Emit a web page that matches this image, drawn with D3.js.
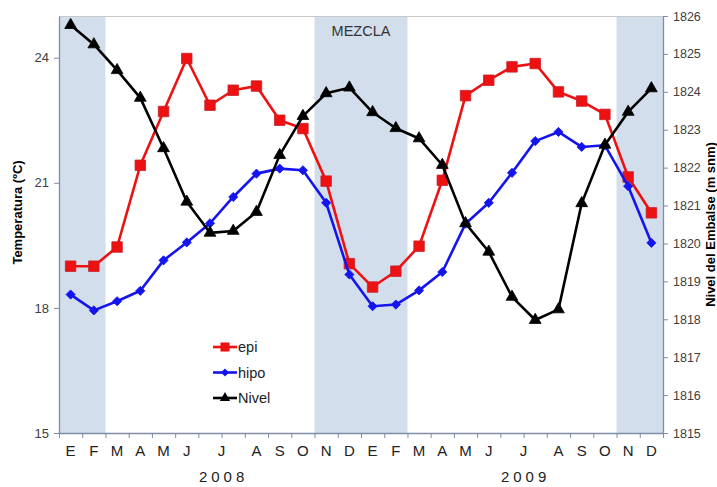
<!DOCTYPE html>
<html>
<head>
<meta charset="utf-8">
<script src="https://cdn.jsdelivr.net/npm/d3@7"></script>
<style>
  body { margin: 0; background: #fff; }
  svg { font-family: "Liberation Sans", Arial, sans-serif; }
</style>
</head>
<body>
<svg width="717" height="487"></svg>
<script>
// one sample per column, July was sampled twice each year
const anio = [2008,2008,2008,2008,2008,2008,2008,2008,2008,2008,2008,2008,2008,
              2009,2009,2009,2009,2009,2009,2009,2009,2009,2009,2009,2009,2009];
const mes  = [1,2,3,4,5,6,7,7,8,9,10,11,12, 1,2,3,4,5,6,7,7,8,9,10,11,12];
const mesLetra = ["E","F","M","A","M","J","J","A","S","O","N","D"];

const epi = [19.0, 19.0, 19.46, 21.42, 22.71, 23.98, 22.86, 23.22, 23.32, 22.5, 22.3, 21.04, 19.06,
             18.5, 18.88, 19.48, 21.06, 23.09, 23.46, 23.78, 23.86, 23.18, 22.96, 22.64, 21.14, 20.28];
const hipo = [18.32, 17.94, 18.16, 18.41, 19.14, 19.57, 20.03, 20.66, 21.22, 21.34, 21.3, 20.52, 18.8,
              18.04, 18.08, 18.42, 18.86, 20.02, 20.52, 21.24, 22.0, 22.22, 21.86, 21.9, 20.92, 19.56];
const nivel = [1825.76, 1825.25, 1824.57, 1823.84, 1822.51, 1821.1, 1820.28, 1820.33, 1820.83, 1822.33, 1823.36, 1823.96, 1824.11,
               1823.46, 1823.04, 1822.77, 1822.07, 1820.53, 1819.78, 1818.59, 1817.98, 1818.26, 1821.06, 1822.6, 1823.47, 1824.09];

// mixing periods, as first and last sample index
const mezcla = [[0, 1, ""], [11, 14, "MEZCLA"], [24, 25, ""]];

const tempTicks = [15, 18, 21, 24];
const nivelTicks = d3.range(1815, 1827);

const svg = d3.select("svg");
const margin = { top: 16, right: 54, bottom: 54, left: 59 };
const W = 717, H = 487;

const x = d3.scaleBand().domain(d3.range(anio.length)).range([margin.left, W - margin.right]);
const xl = d3.scaleLinear().domain([0, anio.length]).range(x.range());
const yT = d3.scaleLinear().domain([15, 25]).range([H - margin.bottom, margin.top]);
const yN = d3.scaleLinear().domain([1815, 1826]).range([H - margin.bottom, margin.top]);
const cx = i => x(i) + x.bandwidth() / 2;

const axisColor = "#7f8ea6";

// shaded mixing bands
svg.append("g").selectAll("rect").data(mezcla).join("rect")
  .attr("x", d => xl(d[0]))
  .attr("width", d => xl(d[1] + 1) - xl(d[0]))
  .attr("y", margin.top)
  .attr("height", yT(15) - margin.top)
  .attr("fill", "#d3deec");

svg.append("g").selectAll("text").data(mezcla.filter(d => d[2])).join("text")
  .attr("x", d => (xl(d[0]) + xl(d[1] + 1)) / 2)
  .attr("y", 36)
  .attr("text-anchor", "middle")
  .attr("font-size", 14.5)
  .attr("fill", "#333")
  .text(d => d[2]);

// frame top
svg.append("line")
  .attr("x1", margin.left).attr("x2", W - margin.right)
  .attr("y1", margin.top + 0.5).attr("y2", margin.top + 0.5)
  .attr("stroke", "#c8c8c8");

// axes
const gl = svg.append("g").attr("transform", `translate(${margin.left},0)`)
  .call(d3.axisLeft(yT).tickValues(tempTicks).tickSize(5).tickSizeOuter(0));
const gr = svg.append("g").attr("transform", `translate(${W - margin.right},0)`)
  .call(d3.axisRight(yN).tickValues(nivelTicks).tickSize(5).tickSizeOuter(0).tickFormat(d3.format("d")));
const gb = svg.append("g").attr("transform", `translate(0,${yT(15)})`)
  .call(d3.axisBottom(xl).tickValues(d3.range(anio.length + 1)).tickSize(5).tickSizeOuter(0).tickFormat(""));

[gl, gr, gb].forEach(g => {
  g.select(".domain").attr("stroke", axisColor).attr("stroke-width", 1.3);
  g.selectAll(".tick line").attr("stroke", axisColor);
  g.selectAll("text").attr("fill", "#404040").attr("font-size", 13);
});
gl.selectAll("text").attr("dx", -2);
gr.selectAll("text").attr("dx", 2).attr("font-size", 12.5);

// month and year labels under the samples
const meses = d3.groups(d3.range(anio.length), i => anio[i] + "-" + mes[i])
  .map(([k, idx]) => ({ m: mes[idx[0]], a: anio[idx[0]], x: d3.mean(idx, cx) }));

svg.append("g").selectAll("text").data(meses).join("text")
  .attr("x", d => d.x)
  .attr("y", 456)
  .attr("text-anchor", "middle")
  .attr("font-size", 15)
  .attr("fill", "#222")
  .text(d => mesLetra[d.m - 1]);

svg.append("g").selectAll("text").data(meses.filter(d => d.m === 7)).join("text")
  .attr("x", d => d.x + 2)
  .attr("y", 482)
  .attr("text-anchor", "middle")
  .attr("font-size", 15)
  .attr("letter-spacing", 4)
  .attr("fill", "#222")
  .text(d => d.a);

// axis titles
svg.append("text")
  .attr("transform", `translate(22,${(yT(15) + yT(25)) / 2 - 12}) rotate(-90)`)
  .attr("text-anchor", "middle")
  .attr("font-size", 13).attr("font-weight", "bold")
  .text("Temperatura (ºC)");

svg.append("text")
  .attr("transform", `translate(715,${(yN(1815) + yN(1826)) / 2}) rotate(-90)`)
  .attr("text-anchor", "middle")
  .attr("font-size", 13).attr("font-weight", "bold")
  .text("Nivel del Embalse (m snm)");

// series
const series = [
  { name: "epi", values: epi, y: yT, color: "#ee1111", edge: "#c8202a", symbol: d3.symbolSquare, size: 110, rot: 0 },
  { name: "hipo", values: hipo, y: yT, color: "#1414ee", edge: "#1414ee", symbol: d3.symbolSquare, size: 42, rot: 45 },
  { name: "Nivel", values: nivel, y: yN, color: "#000", edge: "#000", symbol: d3.symbolTriangle, size: 60, rot: 0 }
];

series.forEach(s => {
  const line = d3.line().x((d, i) => cx(i)).y(d => s.y(d));
  svg.append("path")
    .attr("d", line(s.values))
    .attr("fill", "none")
    .attr("stroke", s.color)
    .attr("stroke-width", 2.6)
    .attr("stroke-linejoin", "round");
  svg.append("g").selectAll("path").data(s.values).join("path")
    .attr("transform", (d, i) => `translate(${cx(i)},${s.y(d)}) rotate(${s.rot})`)
    .attr("d", d3.symbol(s.symbol, s.size))
    .attr("fill", s.color)
    .attr("stroke", s.edge)
    .attr("stroke-width", 0.8);
});

// legend
const leg = svg.append("g").attr("transform", "translate(213,347)");
series.forEach((s, i) => {
  const g = leg.append("g").attr("transform", `translate(0,${i * 25.5})`);
  g.append("line").attr("x1", 0).attr("x2", 24)
    .attr("stroke", s.color).attr("stroke-width", 2.6);
  g.append("path")
    .attr("transform", `translate(12,0) rotate(${s.rot})`)
    .attr("d", d3.symbol(s.symbol, s.size * 0.75))
    .attr("fill", s.color);
  g.append("text").attr("x", 25).attr("y", 5)
    .attr("font-size", 14.5).attr("fill", "#222")
    .text(s.name);
});
</script>
</body>
</html>
